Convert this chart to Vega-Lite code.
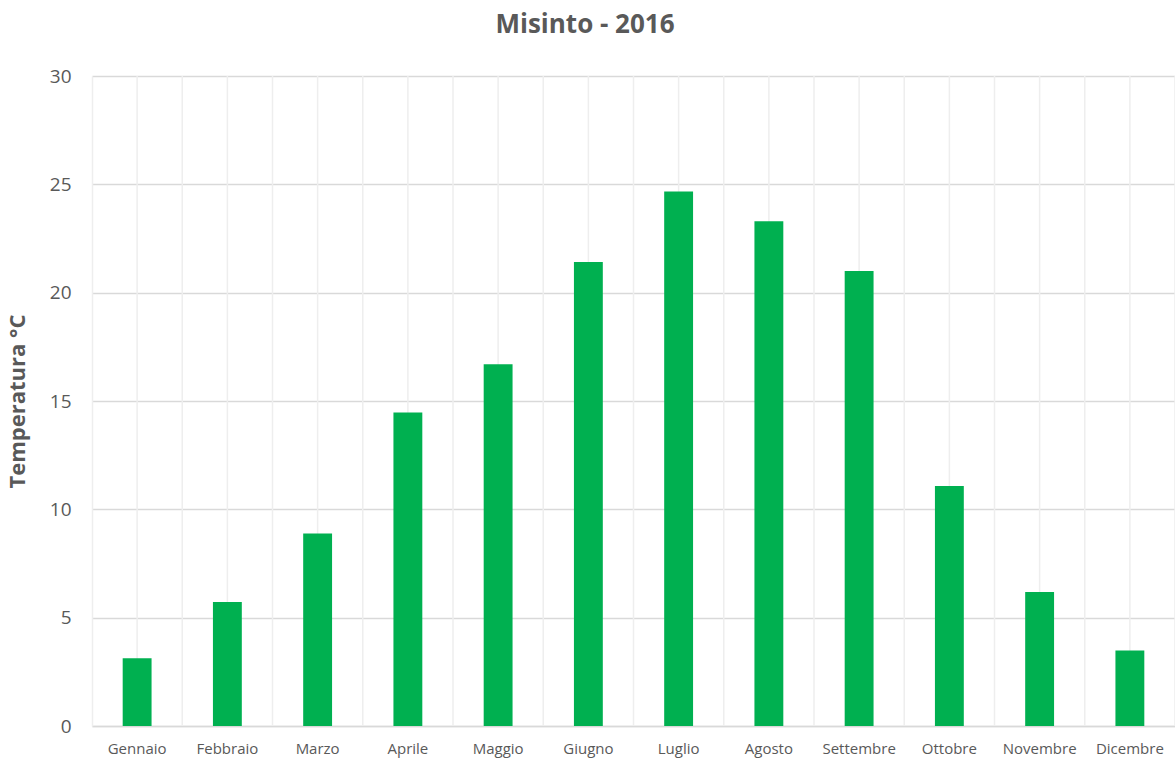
{
  "$schema": "https://vega.github.io/schema/vega-lite/v6.json",
  "autosize": "none",
  "width": 1083,
  "height": 650,
  "padding": {"left": 92, "top": 76, "right": 0, "bottom": 36},
  "background": "white",
  "title": {
    "text": "Misinto - 2016",
    "font": "Open Sans",
    "fontSize": 26,
    "fontWeight": "bold",
    "color": "#595959",
    "anchor": "middle",
    "frame": "bounds",
    "dx": -6,
    "offset": 29
  },
  "data": {
    "values": [
      {"mese": "Gennaio", "temp": 3.13},
      {"mese": "Febbraio", "temp": 5.72},
      {"mese": "Marzo", "temp": 8.88},
      {"mese": "Aprile", "temp": 14.47},
      {"mese": "Maggio", "temp": 16.7},
      {"mese": "Giugno", "temp": 21.41},
      {"mese": "Luglio", "temp": 24.67},
      {"mese": "Agosto", "temp": 23.3},
      {"mese": "Settembre", "temp": 21.0},
      {"mese": "Ottobre", "temp": 11.08},
      {"mese": "Novembre", "temp": 6.18},
      {"mese": "Dicembre", "temp": 3.48}
    ]
  },
  "encoding": {
    "x": {
      "field": "mese",
      "type": "nominal",
      "sort": null,
      "scale": {"paddingInner": 0, "paddingOuter": 0},
      "axis": {
        "title": null,
        "labelAngle": 0,
        "labelFont": "Open Sans",
        "labelFontSize": 15,
        "labelColor": "#595959",
        "labelPadding": 15,
        "ticks": false,
        "grid": false,
        "domainColor": "#D9D9D9",
        "domainWidth": 1.5
      }
    }
  },
  "layer": [
    {
      "mark": {"type": "rule", "color": "#EEEEEE", "strokeWidth": 1.5},
      "encoding": {
        "x": {"field": "mese", "type": "nominal", "sort": null, "bandPosition": 1}
      }
    },
    {
      "mark": {"type": "rule", "color": "#EEEEEE", "strokeWidth": 1.5},
      "encoding": {
        "x": {"field": "mese", "type": "nominal", "sort": null, "bandPosition": 0.5}
      }
    },
    {
      "mark": {"type": "bar", "color": "#00B050", "width": {"band": 0.32}},
      "encoding": {
        "y": {
          "field": "temp",
          "type": "quantitative",
          "scale": {"domain": [0, 30], "nice": false},
          "axis": {
            "title": "Temperatura °C",
            "titleFont": "Open Sans",
            "titleFontSize": 22,
            "titleFontWeight": "bold",
            "titleColor": "#595959",
            "titlePadding": 20,
            "values": [0, 5, 10, 15, 20, 25, 30],
            "labelFont": "Open Sans",
            "labelFontSize": 19,
            "labelColor": "#595959",
            "labelPadding": 21,
            "ticks": false,
            "domain": true,
            "domainColor": "#EEEEEE",
            "domainWidth": 1.5,
            "gridColor": "#D9D9D9",
            "gridWidth": 1.5
          }
        }
      }
    }
  ],
  "config": {"view": {"stroke": null}}
}
